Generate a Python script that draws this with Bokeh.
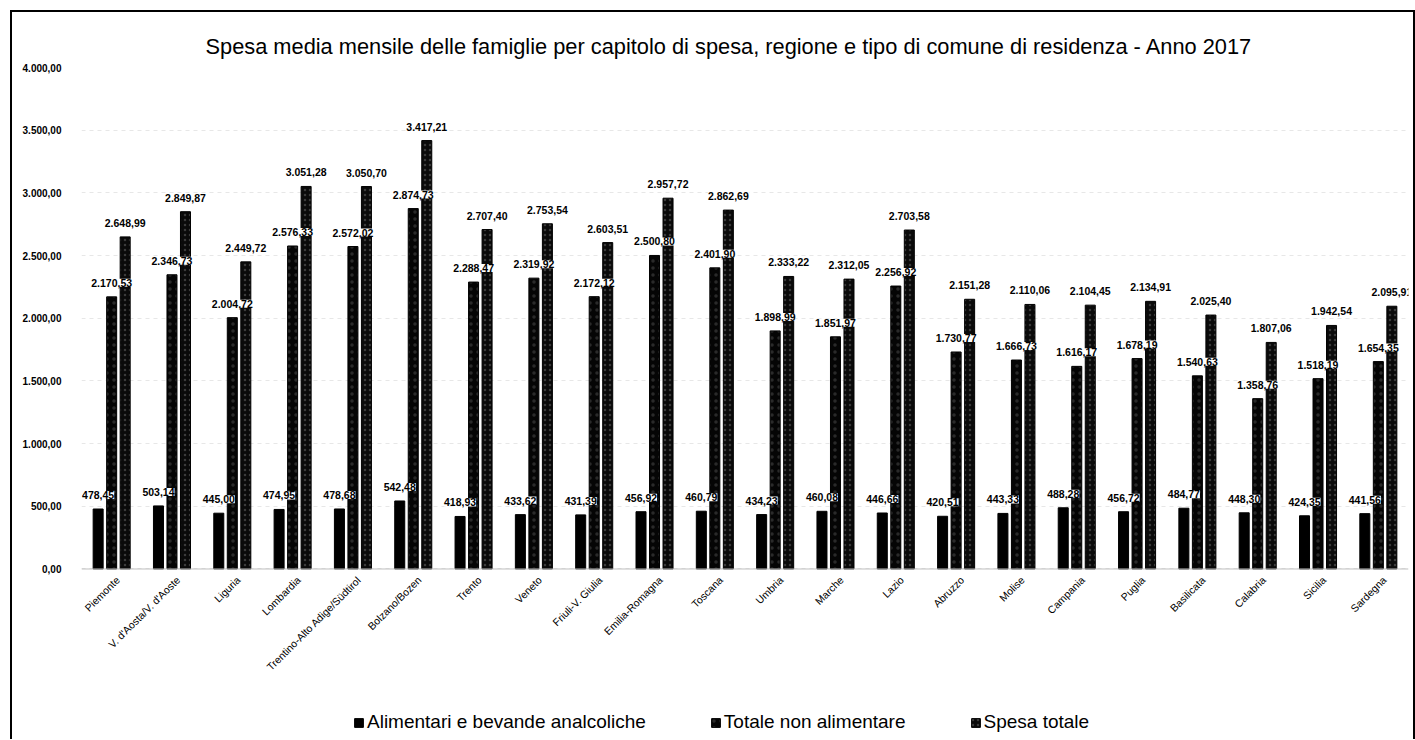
from math import pi
from bokeh.plotting import figure
from bokeh.models import (ColumnDataSource, FactorRange, LabelSet, Legend, LegendItem,
                          FixedTicker, Range1d, Span)
from bokeh.transform import dodge
from bokeh.core.properties import value
from bokeh.embed import file_html
from bokeh.resources import INLINE

# ---------------- data ----------------
titolo = ("Spesa media mensile delle famiglie per capitolo di spesa, regione e tipo "
          "di comune di residenza - Anno 2017")
regioni = ["Piemonte", "V. d'Aosta/V. d'Aoste", "Liguria", "Lombardia",
           "Trentino-Alto Adige/Südtirol", "Bolzano/Bozen", "Trento", "Veneto",
           "Friuli-V. Giulia", "Emilia-Romagna", "Toscana", "Umbria", "Marche", "Lazio",
           "Abruzzo", "Molise", "Campania", "Puglia", "Basilicata", "Calabria", "Sicilia",
           "Sardegna"]
alimentari = [478.45, 503.14, 445.00, 474.95, 478.68, 542.48, 418.93, 433.62, 431.39,
              456.92, 460.79, 434.23, 460.08, 446.66, 420.51, 443.33, 488.28, 456.72,
              484.77, 448.30, 424.35, 441.56]
non_alimentari = [2170.53, 2346.73, 2004.72, 2576.33, 2572.02, 2874.73, 2288.47, 2319.92,
                  2172.12, 2500.80, 2401.90, 1898.99, 1851.97, 2256.92, 1730.77, 1666.73,
                  1616.17, 1678.19, 1540.63, 1358.76, 1518.19, 1654.35]
spesa_totale = [2648.99, 2849.87, 2449.72, 3051.28, 3050.70, 3417.21, 2707.40, 2753.54,
                2603.51, 2957.72, 2862.69, 2333.22, 2312.05, 2703.58, 2151.28, 2110.06,
                2104.45, 2134.91, 2025.40, 1807.06, 1942.54, 2095.91]
serie = ["Alimentari e bevande analcoliche", "Totale non alimentare", "Spesa totale"]
y_ticks = [0, 500, 1000, 1500, 2000, 2500, 3000, 3500, 4000]
y_tick_labels = ["0,00", "500,00", "1.000,00", "1.500,00", "2.000,00", "2.500,00",
                 "3.000,00", "3.500,00", "4.000,00"]


def it_fmt(v):
    s = f"{v:,.2f}"
    return s.replace(",", "X").replace(".", ",").replace("X", ".")


src = ColumnDataSource(dict(
    regioni=regioni,
    alimentari=alimentari,
    non_alimentari=non_alimentari,
    spesa_totale=spesa_totale,
    base=[0] * len(regioni),
    lab_a=[it_fmt(v) for v in alimentari],
    lab_n=[it_fmt(v) for v in non_alimentari],
    lab_t=[it_fmt(v) for v in spesa_totale],
))

FONT = "Liberation Sans"
Y_MAX = y_ticks[-1]
Y_MIN = -1376  # room under the baseline for category names and legend

p = figure(x_range=FactorRange(factors=regioni), y_range=Range1d(Y_MIN, Y_MAX),
           width=1405, height=729, output_backend="svg", toolbar_location=None,
           x_axis_location=None,
           min_border_left=69, min_border_right=9, min_border_top=55, min_border_bottom=0,
           margin=(10, 0, 0, 10),
           styles={"border-top": "2px solid #000000", "border-left": "2px solid #000000",
                   "border-right": "2px solid #000000"})
p.outline_line_color = None

p.title.text = titolo
p.title.align = "left"
p.title.offset = 124
p.title.standoff = 18
p.title.text_font = FONT
p.title.text_font_size = "21.8px"
p.title.text_font_style = "normal"
p.title.text_color = "#000000"

# y axis
p.yaxis.ticker = FixedTicker(ticks=y_ticks)
p.yaxis.major_label_overrides = {t: l for t, l in zip(y_ticks, y_tick_labels)}
p.yaxis.axis_line_color = None
p.yaxis.major_tick_line_color = None
p.yaxis.minor_tick_line_color = None
p.yaxis.major_label_standoff = 14
p.yaxis.major_label_text_font = FONT
p.yaxis.major_label_text_font_size = "10px"
p.yaxis.major_label_text_font_style = "bold"
p.yaxis.major_label_text_color = "#000000"

p.xgrid.grid_line_color = None
p.ygrid.grid_line_color = "#d0d0d0"
p.ygrid.grid_line_dash = "4 4"
p.ygrid.grid_line_alpha = 0.5

# category axis line at 0
p.add_layout(Span(location=0, dimension="width", line_color="#bfbfbf", line_width=1))

off = 0.224
bw = 0.166
r1 = p.vbar(x=dodge("regioni", -off, range=p.x_range), top="alimentari", width=bw,
            source=src, fill_color="#000000", line_color="#000000")
r2 = p.vbar(x=dodge("regioni", 0, range=p.x_range), top="non_alimentari", width=bw,
            source=src, fill_color="#050505", line_color="#000000",
            hatch_pattern="dot", hatch_color="white", hatch_alpha=0.15, hatch_scale=7)
r3 = p.vbar(x=dodge("regioni", off, range=p.x_range), top="spesa_totale", width=bw,
            source=src, fill_color="#0a0a0a", line_color="#000000",
            hatch_pattern="dot", hatch_color="white", hatch_alpha=0.2, hatch_scale=5)

# category names, rotated 45 degrees, ending just under each group
cat_labels = LabelSet(x=dodge("regioni", 0.1, range=p.x_range), y="base", text="regioni",
                      source=src, angle=pi / 4, text_align="right",
                      text_baseline="middle", y_offset=-9,
                      text_font=value(FONT), text_font_size=value("10.5px"),
                      text_color="#000000")
p.add_layout(cat_labels)

for col, lab, dx in (("alimentari", "lab_a", -off), ("non_alimentari", "lab_n", 0),
                     ("spesa_totale", "lab_t", off)):
    ls = LabelSet(x=dodge("regioni", dx, range=p.x_range), y=col, text=lab, source=src,
                  text_align="center", text_baseline="middle", y_offset=14,
                  text_font=value(FONT), text_font_size=value("10.5px"),
                  text_font_style="bold",
                  text_color="#000000", background_fill_color="white")
    p.add_layout(ls)

legend = Legend(items=[LegendItem(label=serie[0], renderers=[r1]),
                       LegendItem(label=serie[1], renderers=[r2]),
                       LegendItem(label=serie[2], renderers=[r3])],
                orientation="horizontal", location=(272, 8),
                border_line_color=None, background_fill_alpha=0,
                label_text_font=FONT, label_text_font_size="19px",
                label_text_color="#000000", glyph_width=11, glyph_height=11,
                label_standoff=3, spacing=64, padding=0, margin=0)
p.add_layout(legend)

open("out.html", "w").write(file_html(p, INLINE))
